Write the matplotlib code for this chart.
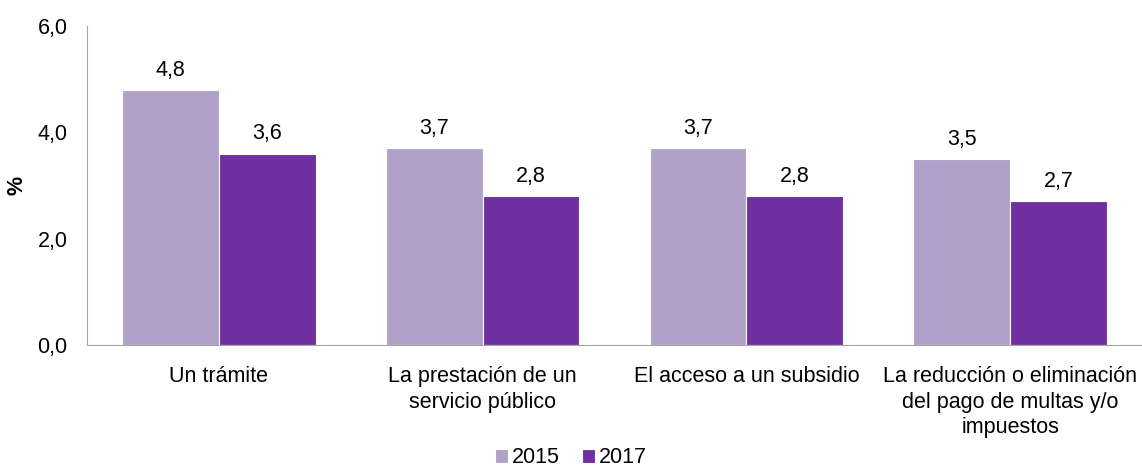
import numpy as np
import matplotlib
matplotlib.use('Agg')
import matplotlib.pyplot as plt

plt.rcParams['font.family'] = ['Liberation Sans', 'DejaVu Sans']

categories = ['Un trámite',
              'La prestación de un\nservicio público',
              'El acceso a un subsidio',
              'La reducción o eliminación\ndel pago de multas y/o\nimpuestos']
v2015 = [4.8, 3.7, 3.7, 3.5]
v2017 = [3.6, 2.8, 2.8, 2.7]
yticks = [0, 2, 4, 6]

c15 = '#B1A0C7'
c17 = '#7030A0'
fs = 15.5

fig = plt.figure(figsize=(11.42, 4.70), dpi=100)
ax = fig.add_axes([0.0762, 0.266, 0.9238, 0.679])

x = np.arange(len(categories))
w = 0.367
b1 = ax.bar(x - w/2, v2015, w, color=c15, edgecolor='white', linewidth=0.8, label='2015')
b2 = ax.bar(x + w/2, v2017, w, color=c17, edgecolor='white', linewidth=0.8, label='2017')

for bars, vals in ((b1, v2015), (b2, v2017)):
    for r, v in zip(bars, vals):
        ax.text(r.get_x() + r.get_width()/2, v + 0.17, f'{v:.1f}'.replace('.', ','),
                ha='center', va='bottom', fontsize=fs)

ax.set_xlim(-0.5, len(categories) - 0.5)
ax.set_ylim(0, 6)
ax.set_yticks(yticks)
ax.set_yticklabels([f'{t:.1f}'.replace('.', ',') for t in yticks], fontsize=fs)
ax.set_xticks(x)
ax.set_xticklabels(categories, fontsize=fs, linespacing=1.3)
ax.tick_params(axis='x', length=0, pad=15)
ax.tick_params(axis='y', length=0, pad=14)
ax.set_ylabel('%', fontsize=fs, fontweight='bold', labelpad=7)

for s in ('top', 'right'):
    ax.spines[s].set_visible(False)
for s in ('left', 'bottom'):
    ax.spines[s].set_color('#A6A6A6')

fig.legend(handles=[b1, b2], loc='lower center', bbox_to_anchor=(0.5, -0.038), ncol=2,
           frameon=False, fontsize=fs, handlelength=0.6, handleheight=0.6,
           handletextpad=0.2, columnspacing=1.0)

fig.savefig('out.png', dpi=100)
